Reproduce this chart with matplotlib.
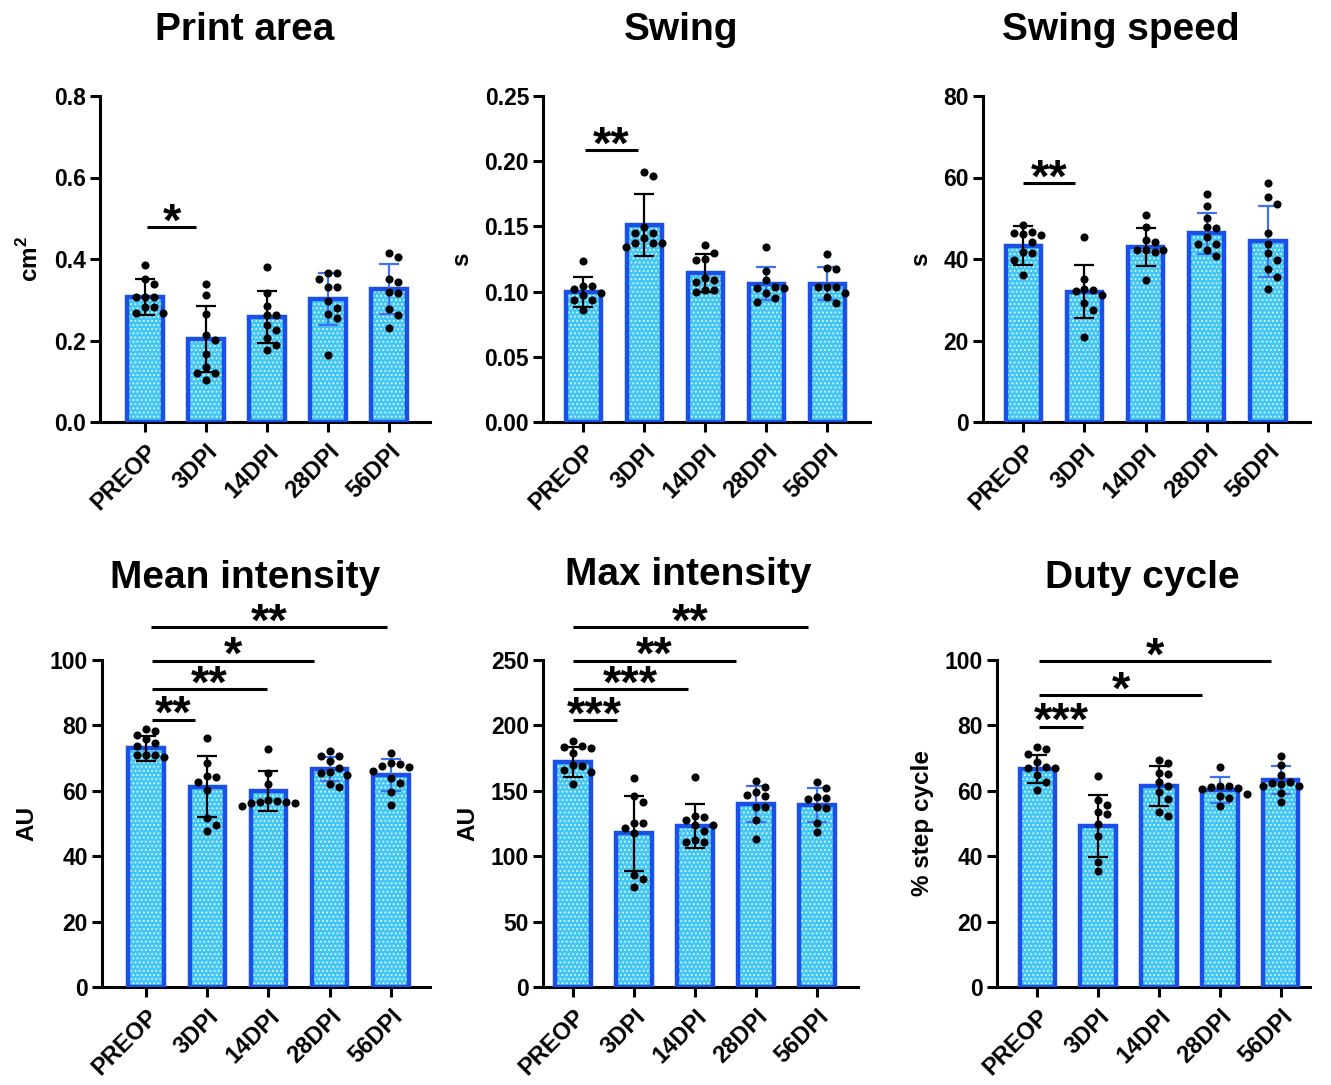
import numpy as np
import matplotlib
matplotlib.use("Agg")
import matplotlib.pyplot as plt

plt.rcParams['font.family'] = ['Liberation Sans', 'DejaVu Sans']
plt.rcParams['font.weight'] = 'bold'
plt.rcParams['mathtext.fontset'] = 'custom'
plt.rcParams['mathtext.rm'] = 'Liberation Sans:bold'
plt.rcParams['mathtext.bf'] = 'Liberation Sans:bold'
plt.rcParams['hatch.linewidth'] = 0.9

groups = ["PREOP", "3DPI", "14DPI", "28DPI", "56DPI"]

# ---------------- data ----------------
print_area_mean = [0.307, 0.204, 0.258, 0.302, 0.326]
print_area_sd = [0.044, 0.081, 0.063, 0.063, 0.062]
print_area_pts = [
    [0.385, 0.351, 0.339, 0.307, 0.307, 0.307, 0.283, 0.283, 0.268, 0.268],
    [0.339, 0.312, 0.265, 0.213, 0.201, 0.167, 0.135, 0.120, 0.120, 0.103],
    [0.380, 0.317, 0.285, 0.263, 0.263, 0.238, 0.226, 0.206, 0.189, 0.177],
    [0.366, 0.366, 0.351, 0.331, 0.331, 0.297, 0.280, 0.265, 0.255, 0.164],
    [0.415, 0.405, 0.351, 0.344, 0.319, 0.317, 0.277, 0.263, 0.231],
]

swing_mean = [0.100, 0.151, 0.114, 0.106, 0.106]
swing_sd = [0.0115, 0.0235, 0.0146, 0.0128, 0.0128]
swing_pts = [
    [0.1237, 0.1043, 0.1043, 0.1018, 0.0987, 0.0974, 0.0936, 0.0936, 0.0859],
    [0.192, 0.1887, 0.1498, 0.1452, 0.1447, 0.1409, 0.1375, 0.1375, 0.137, 0.1345],
    [0.1357, 0.1299, 0.1248, 0.1242, 0.1102, 0.1089, 0.1076, 0.1012, 0.1012, 0.0994],
    [0.1345, 0.116, 0.1089, 0.1033, 0.1025, 0.1025, 0.0987, 0.0948, 0.0923],
    [0.1288, 0.1178, 0.1171, 0.1033, 0.1033, 0.1033, 0.0987, 0.0961, 0.0915],
]

swing_speed_mean = [43.3, 32.0, 42.9, 46.3, 44.3]
swing_speed_sd = [4.8, 6.5, 4.6, 5.0, 8.8]
swing_speed_pts = [
    [48.3, 46.7, 46.3, 46.1, 46.0, 44.2, 41.8, 41.5, 39.8, 36.1],
    [45.5, 35.0, 32.6, 32.4, 32.2, 31.2, 29.3, 27.5, 20.9],
    [50.8, 47.9, 44.7, 44.2, 42.2, 42.2, 42.2, 41.8, 34.8],
    [55.9, 53.0, 50.1, 47.9, 47.5, 45.5, 43.8, 43.8, 42.2, 40.7],
    [58.6, 55.1, 53.5, 46.3, 43.6, 41.4, 39.8, 37.5, 35.7, 32.6],
]

mean_int_mean = [73.0, 61.3, 60.0, 66.7, 64.8]
mean_int_sd = [3.8, 9.4, 6.1, 3.7, 4.8]
mean_int_pts = [
    [78.8, 78.4, 77.1, 75.7, 74.7, 73.7, 70.9, 70.9, 70.9, 70.4],
    [76.0, 68.4, 64.5, 64.3, 62.8, 60.2, 51.6, 49.5, 47.8],
    [72.8, 65.3, 62.0, 57.2, 56.9, 56.7, 56.7, 56.2, 56.2, 55.5],
    [72.2, 70.7, 70.7, 69.2, 66.9, 65.8, 65.3, 64.8, 62.1, 61.3],
    [71.5, 68.4, 68.2, 67.6, 67.2, 66.1, 63.8, 62.3, 59.7, 55.7],
]

max_int_mean = [171.8, 117.5, 123.1, 139.9, 139.1]
max_int_sd = [11.4, 28.8, 16.6, 13.8, 13.3]
max_int_pts = [
    [188.3, 184.3, 183.2, 183.0, 178.7, 169.7, 169.0, 165.9, 164.6, 155.2],
    [159.6, 146.0, 141.7, 125.1, 125.1, 121.3, 118.0, 85.6, 82.3, 76.7],
    [160.8, 131.0, 130.2, 128.0, 123.9, 123.9, 119.5, 112.4, 110.6, 110.6],
    [157.7, 153.1, 149.3, 146.8, 146.0, 137.8, 137.8, 127.7, 113.1],
    [157.0, 151.9, 145.5, 144.3, 143.5, 137.8, 136.6, 125.6, 118.7],
]

duty_mean = [66.8, 49.3, 61.4, 60.3, 63.2]
duty_sd = [4.3, 9.5, 6.1, 3.9, 4.3]
duty_pts = [
    [73.4, 72.9, 71.4, 68.8, 67.3, 67.0, 67.0, 64.7, 62.7, 60.1],
    [64.4, 57.2, 55.8, 53.4, 52.9, 49.8, 46.2, 38.1, 35.5],
    [69.3, 68.6, 65.5, 65.2, 62.7, 61.6, 59.6, 57.5, 53.6, 52.2],
    [67.3, 61.6, 61.6, 61.1, 61.0, 60.6, 59.1, 58.4, 57.8, 55.5],
    [70.7, 68.0, 64.9, 62.7, 62.5, 62.2, 61.6, 61.6, 59.4, 56.7],
]

titles = ["Print area", "Swing", "Swing speed", "Mean intensity", "Max intensity", "Duty cycle"]
ylabels = [r"cm$^{\mathbf{2}}$", "s", "s", "AU", "AU", "% step cycle"]
yticks = [
    [0.0, 0.2, 0.4, 0.6, 0.8],
    [0.00, 0.05, 0.10, 0.15, 0.20, 0.25],
    [0, 20, 40, 60, 80],
    [0, 20, 40, 60, 80, 100],
    [0, 50, 100, 150, 200, 250],
    [0, 20, 40, 60, 80, 100],
]
ytick_fmt = ["{:.1f}", "{:.2f}", "{:.0f}", "{:.0f}", "{:.0f}", "{:.0f}"]

# significance annotations: (x start, x end, y line, label)
sig = [
    [(0.03, 0.84, 0.478, "*")],
    [(0.03, 0.90, 0.2086, "**")],
    [(0.0, 0.85, 58.6, "**")],
    [(0.1, 0.80, 81.7, "**"), (0.1, 1.97, 91.1, "**"), (0.1, 2.75, 99.8, "*"), (0.08, 3.93, 110.1, "**")],
    [(0.0, 0.72, 204.1, "***"), (0.0, 1.89, 227.8, "***"), (0.0, 2.67, 249.5, "**"), (0.0, 3.85, 275.0, "**")],
    [(0.03, 0.75, 79.6, "***"), (0.03, 2.71, 89.3, "*"), (0.03, 3.84, 99.6, "*")],
]

means = [print_area_mean, swing_mean, swing_speed_mean, mean_int_mean, max_int_mean, duty_mean]
sds = [print_area_sd, swing_sd, swing_speed_sd, mean_int_sd, max_int_sd, duty_sd]
pts = [print_area_pts, swing_pts, swing_speed_pts, mean_int_pts, max_int_pts, duty_pts]

# ---------------- layout ----------------
W, H = 1331, 1085
fig = plt.figure(figsize=(W / 100, H / 100), dpi=100)

# axes boxes in pixels: left, top, right, bottom, xlim
boxes = [
    (100, 96, 430, 422, (-0.74, 4.67)),
    (543, 96, 870, 422, (-0.66, 4.70)),
    (983, 96, 1310, 422, (-0.66, 4.69)),
    (102, 660, 430, 987, (-0.72, 4.64)),
    (543, 660, 858, 987, (-0.49, 4.67)),
    (997, 660, 1310, 987, (-0.66, 4.48)),
]
title_pos = [(245, 30), (681, 30), (1121, 30), (245, 578), (688, 575), (1142, 578)]

FILL = '#42c6f4'
EDGE = '#1a4fe8'
EBLUE = '#3d72f0'


def swarm_offsets(ax, vals, xc, diam_px=8.5):
    """Beeswarm-like placement computed in display space."""
    order = np.argsort(vals)[::-1]
    placed = []
    offs = np.zeros(len(vals))
    x0 = ax.transData.transform((xc, 0))[0]
    x1 = ax.transData.transform((xc + 1, 0))[0]
    pxu = x1 - x0
    cands = [0]
    for j in range(1, 8):
        cands += [j, -j]
    for i in order:
        yp = ax.transData.transform((xc, vals[i]))[1]
        for c in cands:
            xp = c * diam_px * 1.05
            ok = all((xp - px) ** 2 + (yp - py) ** 2 >= diam_px ** 2 for px, py in placed)
            if ok:
                placed.append((xp, yp))
                offs[i] = xp / pxu
                break
    return offs


for k in range(6):
    l, t, r, b, xl = boxes[k]
    ax = fig.add_axes([l / W, 1 - b / H, (r - l) / W, (b - t) / H])
    x = np.arange(5)
    ymax = yticks[k][-1]
    ax.set_xlim(*xl)
    ax.set_ylim(0, ymax)

    ax.bar(x, means[k], width=0.58, color=FILL, edgecolor='#d6f4ff', hatch='....', linewidth=0, zorder=2)
    ax.bar(x, means[k], width=0.58, fill=False, edgecolor=EDGE, linewidth=3.2, zorder=3)

    for i in range(5):
        c = 'black' if i < 3 else EBLUE
        ax.errorbar(x[i], means[k][i], yerr=sds[k][i], fmt='none', ecolor=c,
                    elinewidth=1.6, capsize=7, capthick=1.6, zorder=4)

    for i in range(5):
        v = np.array(pts[k][i])
        offs = swarm_offsets(ax, v, x[i])
        ax.scatter(x[i] + offs, v, s=34, color='black', zorder=5, linewidths=0)

    for (xs, xe, yl, lab) in sig[k]:
        ax.plot([xs, xe], [yl, yl], color='black', lw=2.2, clip_on=False, zorder=6,
                solid_capstyle='butt')
        ax.annotate(lab, xy=((xs + xe) / 2, yl), xytext=(0, -6), textcoords='offset points',
                    ha='center', va='baseline', fontsize=34, fontweight='bold',
                    annotation_clip=False, zorder=6)

    ax.set_yticks(yticks[k])
    ax.set_yticklabels([ytick_fmt[k].format(v) for v in yticks[k]], fontsize=16.5, fontweight='bold')
    ax.set_xticks(x)
    ax.set_xticklabels(groups, rotation=45, ha='right', va='top', rotation_mode='anchor',
                       fontsize=17, fontweight='bold')
    ax.set_ylabel(ylabels[k], fontsize=17.5, fontweight='bold', labelpad=8)

    for s in ['top', 'right']:
        ax.spines[s].set_visible(False)
    for s in ['left', 'bottom']:
        ax.spines[s].set_linewidth(2.2)
    ax.tick_params(axis='both', length=7, width=2.2, direction='out', pad=3)
    ax.tick_params(axis='x', pad=6)

    tx, ty = title_pos[k]
    fig.text(tx / W, 1 - ty / H, titles[k], ha='center', va='center', fontsize=28, fontweight='bold')

fig.savefig("out.png", dpi=100, facecolor='white')
